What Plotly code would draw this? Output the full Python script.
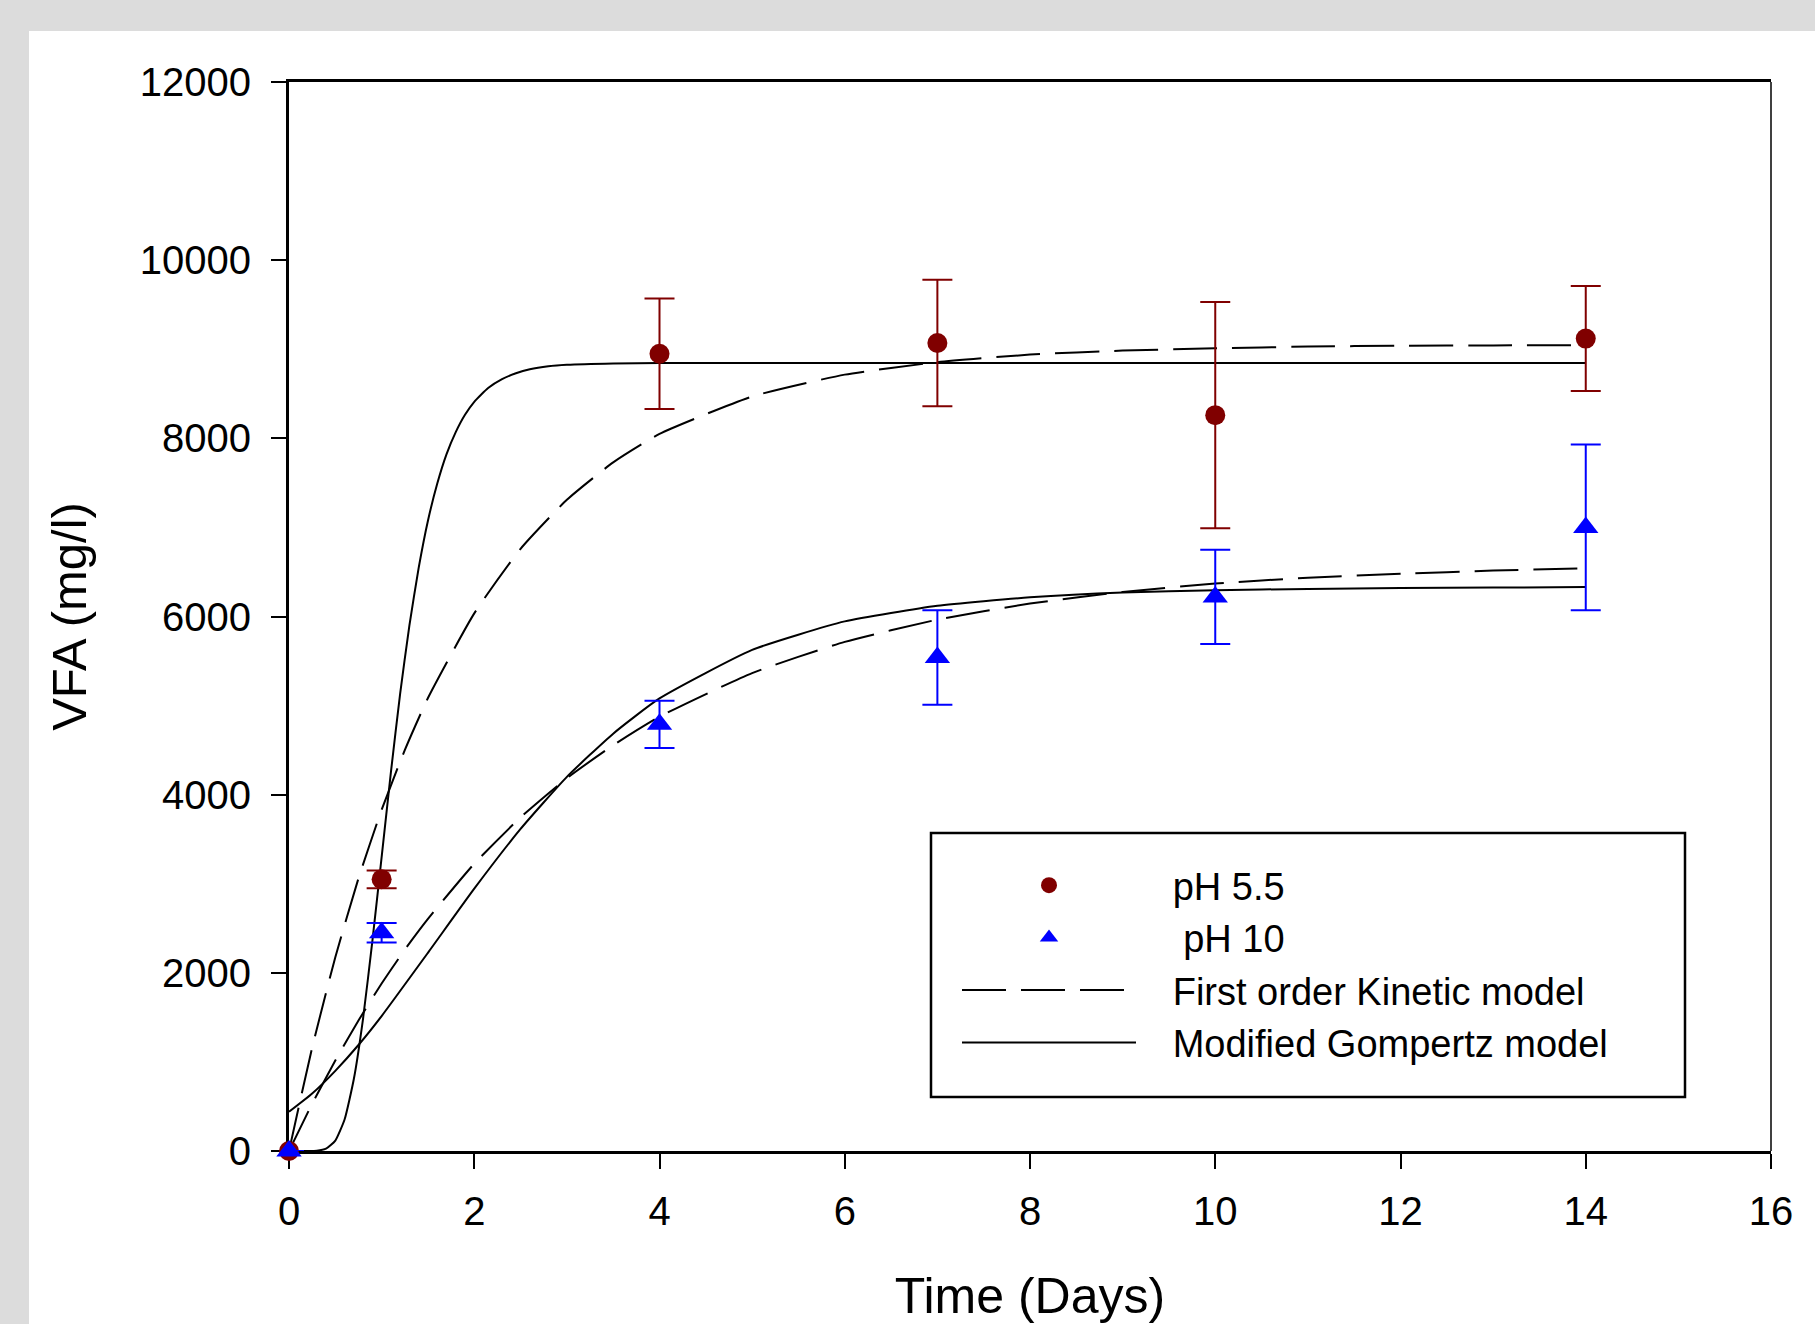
import plotly.graph_objects as go

# ---------------- data ----------------
days = [0, 1, 4, 7, 10, 14]

ph55_vfa = [0, 3050, 8950, 9070, 8260, 9120]
ph55_err = [0, 100, 620, 710, 1270, 590]

ph10_vfa = [0, 2450, 4790, 5540, 6220, 7000]
ph10_err = [0, 110, 265, 530, 530, 930]

# First order kinetic model curves
fo_x = [0, 0.25, 0.5, 0.75, 1, 1.25, 1.5, 2, 2.5, 3, 3.5, 4, 5, 6, 7, 8, 9, 10, 11, 12, 13, 14]
fo_ph55 = [0, 1160, 2175, 3060, 3830, 4500, 5085, 6035, 6760, 7310, 7730, 8050,
           8470, 8715, 8855, 8940, 8985, 9010, 9030, 9040, 9043, 9046]
fo_ph10 = [0, 530, 1015, 1465, 1880, 2260, 2605, 3225, 3745, 4185, 4555, 4875,
           5365, 5715, 5965, 6145, 6275, 6370, 6435, 6480, 6515, 6540]

# Modified Gompertz model curves
gz55_x = [0, 0.3, 0.4, 0.5, 0.6, 0.7, 0.8, 0.9, 1.0, 1.1, 1.2, 1.3, 1.4, 1.5, 1.6,
          1.7, 1.8, 1.9, 2.0, 2.15, 2.3, 2.45, 2.6, 2.8, 3.0, 3.5, 4, 6, 8, 10, 12, 14]
gz55_y = [0, 4, 26, 117, 353, 808, 1490, 2355, 3300, 4250, 5135, 5900, 6545, 7075, 7490,
          7820, 8070, 8265, 8410, 8565, 8665, 8730, 8775, 8808, 8825, 8840, 8845,
          8845, 8845, 8845, 8845, 8845]
gz10_x = [0, 0.25, 0.5, 0.75, 1, 1.5, 2, 2.5, 3, 3.5, 4, 5, 6, 7, 8, 9, 10, 11, 12, 13, 14]
gz10_y = [440, 645, 900, 1190, 1515, 2225, 2945, 3615, 4200, 4685, 5080, 5625,
          5945, 6120, 6215, 6270, 6295, 6310, 6320, 6325, 6330]

x_ticks = [0, 2, 4, 6, 8, 10, 12, 14, 16]
y_ticks = [0, 2000, 4000, 6000, 8000, 10000, 12000]

# ---------------- figure ----------------
RED = "#800000"
BLUE = "#0000FF"
FONT = "Liberation Sans, Arial, sans-serif"
DASH = "44px,15px"
PAD = "\u00a0\u00a0\u00a0"

fig = go.Figure()

fig.add_trace(go.Scatter(x=fo_x, y=fo_ph55, mode="lines", name=PAD + "First order Kinetic model",
                         line=dict(color="black", width=2, dash=DASH, shape="spline", smoothing=0.5),
                         legendrank=3))
fig.add_trace(go.Scatter(x=fo_x, y=fo_ph10, mode="lines", showlegend=False,
                         line=dict(color="black", width=2, dash=DASH, shape="spline", smoothing=0.5)))
fig.add_trace(go.Scatter(x=gz55_x, y=gz55_y, mode="lines", name=PAD + "Modified Gompertz model",
                         line=dict(color="black", width=2, shape="spline", smoothing=0.5),
                         legendrank=4))
fig.add_trace(go.Scatter(x=gz10_x, y=gz10_y, mode="lines", showlegend=False,
                         line=dict(color="black", width=2, shape="spline", smoothing=0.5)))

fig.add_trace(go.Scatter(x=days, y=ph55_vfa, mode="markers", name=PAD + "pH 5.5", legendrank=1,
                         marker=dict(symbol="circle", size=20, color=RED),
                         error_y=dict(type="data", array=ph55_err, visible=True,
                                      color=RED, thickness=2, width=15),
                         cliponaxis=False))
fig.add_trace(go.Scatter(x=days, y=ph10_vfa, mode="markers", name=PAD + "\u00a0pH 10", legendrank=2,
                         marker=dict(symbol="triangle-up", size=22, color=BLUE),
                         error_y=dict(type="data", array=ph10_err, visible=True,
                                      color=BLUE, thickness=2, width=15),
                         cliponaxis=False))

L, R, T, B = 289, 44, 82, 173
W, H = 1815, 1324
pw, ph = W - L - R, H - T - B


def px_x(p):
    return (p - L) / pw


def px_y(p):
    return (H - B - p) / ph


fig.update_layout(
    width=W, height=H,
    margin=dict(l=L, r=R, t=T, b=B, autoexpand=False),
    paper_bgcolor="#dcdcdc",
    plot_bgcolor="white",
    font=dict(family=FONT, color="black"),
    showlegend=True,
    legend=dict(
        x=px_x(957), y=px_y(854), xanchor="left", yanchor="top",
        bgcolor="rgba(0,0,0,0)", borderwidth=0,
        font=dict(family=FONT, size=38, color="black"),
        itemwidth=174, tracegroupgap=0,
    ),
    xaxis=dict(
        range=[0, 16], tickvals=x_ticks, ticktext=[str(v) for v in x_ticks],
        showgrid=False, zeroline=False,
        showline=True, linecolor="black", linewidth=3, mirror=True,
        ticks="outside", ticklen=15, tickwidth=2, tickcolor="black",
        tickfont=dict(size=40, family=FONT),
        ticklabelstandoff=8,
        title=dict(text="Time (Days)", font=dict(size=50, family=FONT), standoff=48),
        layer="below traces",
    ),
    yaxis=dict(
        range=[0, 12000], tickvals=y_ticks, ticktext=[str(v) for v in y_ticks],
        showgrid=False, zeroline=False,
        showline=True, linecolor="black", linewidth=3,
        ticks="outside", ticklen=15, tickwidth=2, tickcolor="black",
        tickfont=dict(size=40, family=FONT),
        ticklabelstandoff=12,
        title=dict(text="VFA (mg/l)", font=dict(size=49, family=FONT), standoff=38),
        layer="below traces",
    ),
    shapes=[
        # white panel on gray page
        dict(type="rect", xref="paper", yref="paper",
             x0=px_x(29), x1=px_x(W + 50), y0=px_y(H + 50), y1=px_y(31),
             fillcolor="white", line=dict(width=0), layer="below"),
        # thin right frame line
        dict(type="line", xref="x domain", yref="y domain", x0=1, x1=1, y0=0, y1=1,
             line=dict(color="black", width=1.5)),
        # legend box
        dict(type="rect", xref="paper", yref="paper",
             x0=px_x(931), x1=px_x(1685), y0=px_y(1097), y1=px_y(833),
             line=dict(color="black", width=2.5), fillcolor="rgba(0,0,0,0)", layer="above"),
    ],
)

fig.write_html("out.html",
               config={"displayModeBar": False},
               post_script="document.body.style.margin='0';document.body.style.overflow='hidden';")
